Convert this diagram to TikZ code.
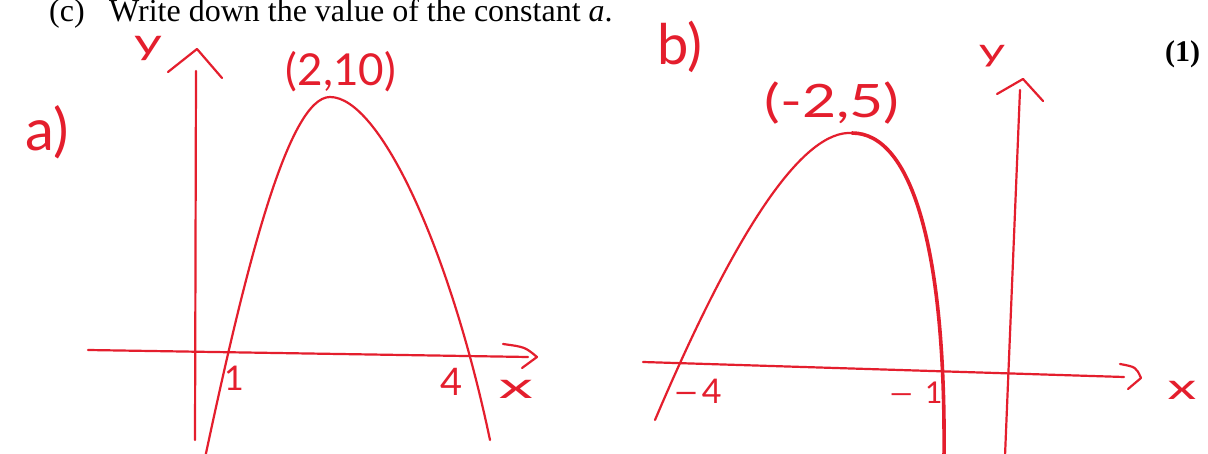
\documentclass[tikz,border=0pt]{standalone}
\usepackage{fontspec}
\setmainfont{Liberation Serif}
\newfontfamily\hand{Lato}
\definecolor{pen}{RGB}{228,30,45}
\begin{document}
\begin{tikzpicture}[x=1pt,y=-1pt,
  penline/.style={draw=pen, line width=2.2pt, line cap=round, line join=round},
  thickpen/.style={draw=pen, line width=3.6pt, line cap=round},
  hw/.style={text=pen, inner sep=0pt, anchor=center},
  print/.style={inner sep=0pt, anchor=base west, text=black}]
\useasboundingbox (0,0) rectangle (1208,454);
\fill[white] (0,0) rectangle (1208,454);
% printed text
\node[print, font=\fontsize{32}{38}\selectfont] (qc) at (49,22) {(c)};
\node[print, font=\fontsize{32}{38}\selectfont] (qt) at (109,22) {Write down the value of the constant \textit{a}.};
\node[print, font=\fontsize{30}{36}\selectfont\bfseries] (mark) at (1165,62) {(1)};
% ---------- graph a ----------
\coordinate (ay0) at (196,71);
\coordinate (ay1) at (195,440);
\coordinate (aal) at (168,72);
\coordinate (aap) at (197,49);
\coordinate (aar) at (222,78);
\coordinate (ax0) at (88,350);
\coordinate (ax1) at (528,357);
\coordinate (axu) at (503,344);
\coordinate (axt) at (537,357);
\coordinate (axl) at (522,368);
\draw[penline] (ay0) -- (ay1);
\draw[penline] (aal) -- (aap) -- (aar);
\draw[penline] (ax0) -- (ax1);
\draw[penline] (axu) .. controls (525,347) .. (axt) -- (axl);
\coordinate (pa0) at (205,458);
\coordinate (pat) at (330,97);
\coordinate (pa1) at (490,440);
\draw[penline] (pa0) .. controls (245,270) and (288,97) .. (pat)
  .. controls (380,97) and (450,250) .. (pa1);
\node[hw, font=\hand\fontsize{36}{40}\selectfont] (ya) at (148,48) {\scalebox{1.5}[1]{y}};
\node[hw, font=\hand\fontsize{58}{62}\selectfont] (la) at (47,132) {a)};
\node[hw, font=\hand\fontsize{44}{48}\selectfont] (pka) at (341,72) {(2,10)};
\node[hw, font=\hand\fontsize{34}{38}\selectfont] (one) at (234,378) {1};
\node[hw, font=\hand\fontsize{38}{42}\selectfont] (four) at (452,382) {4};
\node[hw, font=\hand\fontsize{36}{40}\selectfont] (xa) at (516,389) {\scalebox{1.9}[1]{x}};
% ---------- graph b ----------
\coordinate (by0) at (1020,90);
\coordinate (by1) at (1005,456);
\coordinate (bal) at (997,94);
\coordinate (bap) at (1023,79);
\coordinate (bar) at (1043,101);
\coordinate (bx0) at (643,362);
\coordinate (bx1) at (1124,377);
\coordinate (bxu) at (1120,364);
\coordinate (bxt) at (1141,378);
\coordinate (bxl) at (1128,389);
\draw[penline] (by0) -- (by1);
\draw[penline] (bal) -- (bap) -- (bar);
\draw[penline] (bx0) -- (bx1);
\draw[penline] (bxu) .. controls (1136,367) .. (bxt) -- (bxl);
\coordinate (pb0) at (655,420);
\coordinate (pbt) at (852,133);
\coordinate (pb1) at (944,458);
\draw[penline] (pb0) .. controls (740,220) and (805,130) .. (pbt);
\draw[thickpen] (pbt) .. controls (912,133) and (946,250) .. (pb1);
\node[hw, font=\hand\fontsize{32}{36}\selectfont] (yb) at (992,56) {\scalebox{1.6}[1]{y}};
\node[hw, font=\hand\fontsize{56}{60}\selectfont] (lb) at (680,47) {b)};
\node[hw, font=\hand\fontsize{46}{50}\selectfont] (pkb) at (832,103) {\scalebox{1.28}[1]{(-2,5)}};
\node[hw, font=\hand\fontsize{34}{38}\selectfont] (m4) at (697,391) {\scalebox{1.4}[1]{–}\hspace{2pt}4};
\node[hw, font=\hand\fontsize{30}{34}\selectfont] (m1) at (915,393) {\scalebox{1.6}[1]{–}\hspace{10pt}1};
\node[hw, font=\hand\fontsize{36}{40}\selectfont] (xb) at (1182,390) {\scalebox{1.6}[1]{x}};
\end{tikzpicture}
\end{document}
